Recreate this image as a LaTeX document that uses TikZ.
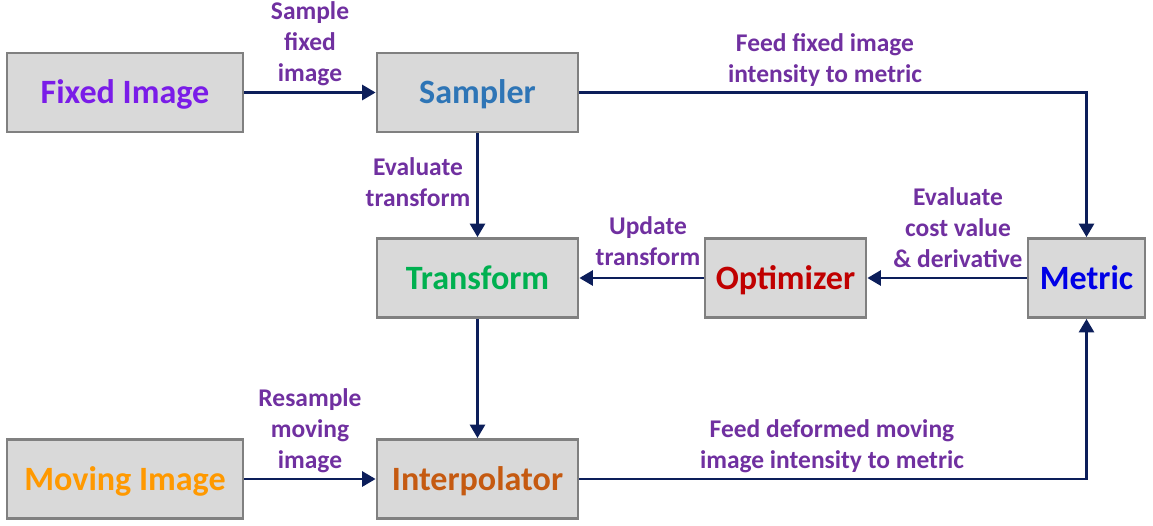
\documentclass[tikz,border=0pt]{standalone}
\usepackage{fontspec}
\setmainfont{Carlito}
\usetikzlibrary{arrows.meta}
\begin{document}
\begin{tikzpicture}[x=0.02cm,y=-0.02cm,
  box/.style={draw=c0,fill=cbg,line width=1.6pt,minimum height=1.58cm,
    inner sep=0pt,text height=0.44cm,text depth=0pt,
    font=\fontsize{19.4}{23}\selectfont\bfseries},
  lbl/.style={text=clbl,align=center,inner sep=0pt,
    font=\fontsize{14.5}{17.6}\selectfont\bfseries},
  conn/.style={draw=cln,line width=1.6pt,-{Triangle[length=0.27cm,width=0.3cm]}}]
 \definecolor{c0}{RGB}{128,128,128}
 \definecolor{cbg}{RGB}{217,217,217}
 \definecolor{cln}{RGB}{12,30,90}
 \definecolor{clbl}{RGB}{112,48,160}
 \definecolor{cfix}{RGB}{122,28,232}
 \definecolor{csmp}{RGB}{46,117,182}
 \definecolor{ctrf}{RGB}{0,176,80}
 \definecolor{copt}{RGB}{192,0,0}
 \definecolor{cmet}{RGB}{0,0,230}
 \definecolor{cmov}{RGB}{255,153,0}
 \definecolor{cipl}{RGB}{197,90,17}
 \useasboundingbox (0,0) rectangle (1153,525);
 % blocks
 \foreach \nm/\xp/\yp/\bw/\col/\txt in {
   fix/125/92.5/4.72cm/cfix/Fixed Image,
   smp/477.5/92.5/4.02cm/csmp/Sampler,
   trf/477.5/278/4.02cm/ctrf/Transform,
   opt/785.5/278/3.22cm/copt/Optimizer,
   met/1086.5/278/2.34cm/cmet/Metric,
   mov/125/479/4.72cm/cmov/Moving Image,
   ipl/477.5/479/4.02cm/cipl/Interpolator
 } {
   \node[box,minimum width=\bw,text=\col] (\nm) at (\xp,\yp) {\txt};
 }
 % connectors
 \draw[conn] (fix) -- (smp);
 \draw[conn] (smp) -- (trf);
 \draw[conn] (trf) -- (ipl);
 \draw[conn] (mov) -- (ipl);
 \draw[conn] (opt) -- (trf);
 \draw[conn] (met) -- (opt);
 \draw[conn] (smp.east) -| (met.north);
 \draw[conn] (ipl.east) -| (met.south);
 % labels
 \node[lbl] (l1) at (310,44) {Sample\\fixed\\image};
 \node[lbl] (l2) at (825,60) {Feed fixed image\\intensity to metric};
 \node[lbl] (l3) at (418,182) {Evaluate\\transform};
 \node[lbl] (l4) at (648,241.5) {Update\\transform};
 \node[lbl] (l5) at (958,228) {Evaluate\\cost value\\\& derivative};
 \node[lbl] (l6) at (310,431) {Resample\\moving\\image};
 \node[lbl] (l7) at (832,446) {Feed deformed moving\\image intensity to metric};
\end{tikzpicture}
\end{document}
